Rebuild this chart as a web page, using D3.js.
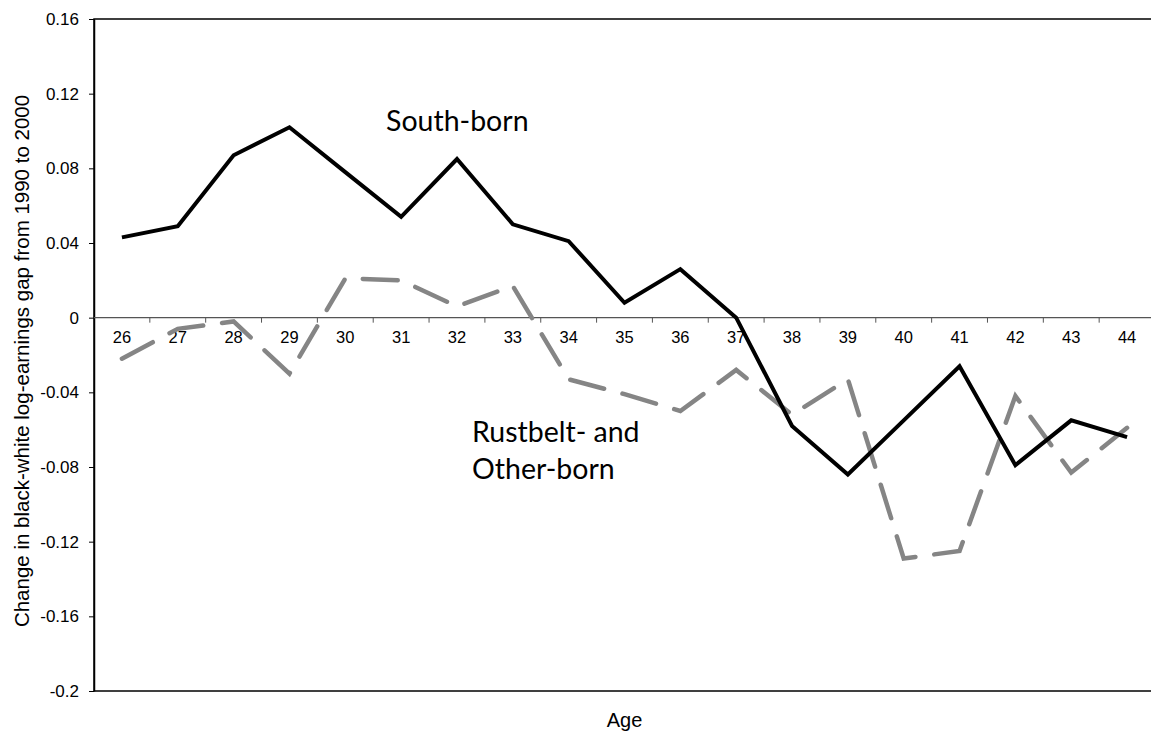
<!DOCTYPE html>
<html>
<head>
<meta charset="utf-8">
<script src="https://cdn.jsdelivr.net/npm/d3@7"></script>
<style>
  body { margin: 0; background: #fff; }
</style>
</head>
<body>
<script>
// ages on the category axis
const ages = [26, 27, 28, 29, 30, 31, 32, 33, 34, 35, 36, 37, 38, 39, 40, 41, 42, 43, 44];
// change in black-white log-earnings gap
const southBorn = [0.043, 0.049, 0.087, 0.102, 0.078, 0.054, 0.085, 0.050, 0.041, 0.008,
  0.026, 0.000, -0.058, -0.084, -0.055, -0.026, -0.079, -0.055, -0.064];
const rustOther = [-0.022, -0.006, -0.002, -0.030, 0.021, 0.020, 0.006, 0.017, -0.033, -0.041,
  -0.050, -0.028, -0.052, -0.033, -0.129, -0.125, -0.042, -0.083, -0.059];
const yTicks = [0.16, 0.12, 0.08, 0.04, 0, -0.04, -0.08, -0.12, -0.16, -0.2];

const W = 1151, H = 736;
const mLeft = 94, mTop = 19, mRight = 1155, mBottom = 691;
const arial = "'Liberation Sans', Arial, sans-serif";

const svg = d3.select("body").append("svg").attr("width", W).attr("height", H);

const x = d3.scaleBand().domain(ages).range([mLeft, mRight]);
const y = d3.scaleLinear().domain([-0.2, 0.16]).range([mBottom, mTop]);

// plot frame
svg.append("rect")
  .attr("x", mLeft).attr("y", mTop)
  .attr("width", mRight - mLeft).attr("height", mBottom - mTop)
  .attr("fill", "none").attr("stroke", "#000").attr("stroke-width", 1.5);

// y axis
const gy = svg.append("g").attr("transform", "translate(" + mLeft + ",0)")
  .call(d3.axisLeft(y).tickValues(yTicks).tickSize(5).tickSizeOuter(0)
    .tickFormat(d => d === 0 ? "0" : String(+d.toFixed(2))));
gy.select(".domain").attr("stroke", "#000").attr("stroke-width", 1.5);
gy.selectAll(".tick line").attr("stroke", "#000");
gy.selectAll(".tick text").attr("x", -15)
  .style("font-family", arial).style("font-size", "17px").attr("fill", "#000");

// x axis sits on the zero line, ticks between categories
const gx = svg.append("g").attr("transform", "translate(0," + y(0) + ")");
gx.call(d3.axisBottom(x).tickSize(0).tickPadding(14))
  .select(".domain").remove();
gx.selectAll(".tick text")
  .style("font-family", arial).style("font-size", "16.5px").attr("fill", "#000");
gx.append("line").attr("x1", mLeft).attr("x2", mRight)
  .attr("stroke", "#555").attr("stroke-width", 1.2);
gx.selectAll(".sep").data(ages.slice(1)).enter().append("line")
  .attr("class", "sep")
  .attr("x1", d => x(d)).attr("x2", d => x(d))
  .attr("y1", 0).attr("y2", 5)
  .attr("stroke", "#555");

const line = d3.line().x((d, i) => x(ages[i]) + x.bandwidth() / 2).y(d => y(d));

svg.append("path").datum(rustOther)
  .attr("d", line).attr("fill", "none")
  .attr("stroke", "#858585").attr("stroke-width", 4.5)
  .attr("stroke-dasharray", "35 19").attr("stroke-linecap", "round")
  .attr("stroke-linejoin", "miter");

svg.append("path").datum(southBorn)
  .attr("d", line).attr("fill", "none")
  .attr("stroke", "#000").attr("stroke-width", 4)
  .attr("stroke-linejoin", "miter");

// series labels
const lab = "Lato, 'Open Sans', sans-serif";
svg.append("text").attr("x", 386).attr("y", 131)
  .style("font-family", lab).style("font-size", "28.5px").text("South-born");
svg.append("text").attr("x", 472).attr("y", 442)
  .style("font-family", lab).style("font-size", "28.5px").text("Rustbelt- and");
svg.append("text").attr("x", 472).attr("y", 479)
  .style("font-family", lab).style("font-size", "28.5px").text("Other-born");

// axis titles
svg.append("text").attr("x", (mLeft + mRight) / 2).attr("y", 727)
  .attr("text-anchor", "middle")
  .style("font-family", arial).style("font-size", "20px")
  .text("Age");
svg.append("text")
  .attr("transform", "translate(29,361) rotate(-90)")
  .attr("text-anchor", "middle")
  .style("font-family", arial).style("font-size", "20.5px")
  .text("Change in black-white log-earnings gap from 1990 to 2000");
</script>
</body>
</html>
